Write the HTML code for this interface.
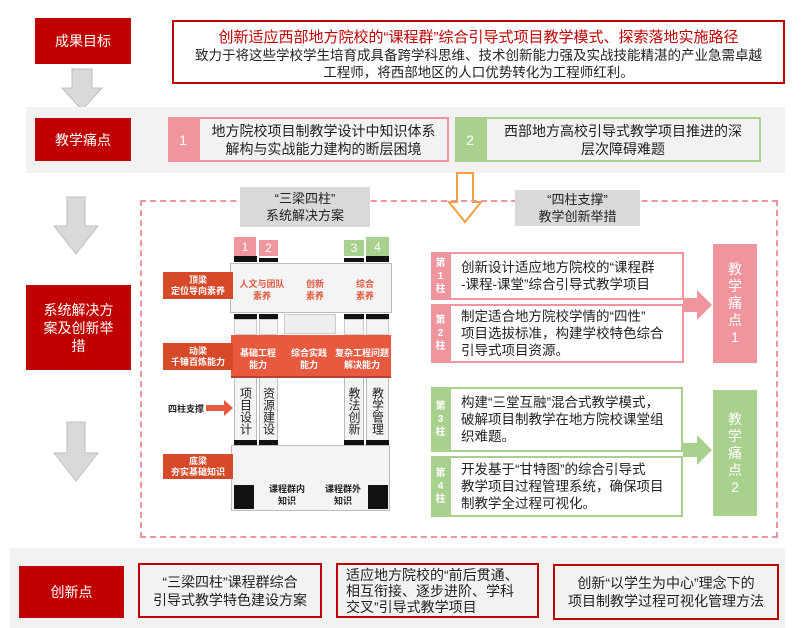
<!DOCTYPE html>
<html><head><meta charset="utf-8"><style>
*{margin:0;padding:0;box-sizing:border-box}
body{width:804px;height:628px;background:#fff;position:relative;overflow:hidden;font-family:"Liberation Sans","Noto Sans CJK SC",sans-serif;color:#222}
.a{position:absolute}
.red{background:#c00000;color:#fff;display:flex;align-items:center;justify-content:center;text-align:center;font-size:14px;line-height:18px}
.c{display:flex;align-items:center;justify-content:center;text-align:center}
.lab{background:#d64a2a;color:#fff;font-size:9px;font-weight:bold;line-height:11px}
.pil{background:#f4f4f4;border-left:1px solid #bbb;border-right:1px solid #bbb;font-size:12px;line-height:14px;writing-mode:vertical-rl;text-orientation:upright;display:flex;align-items:center;justify-content:center;padding-top:4px}
.blk{background:#111}
.pt{font-size:13.5px;line-height:17px;padding-left:10px;display:flex;align-items:center;background:#fff}
.pl{color:#fff;font-size:10px;line-height:13px;font-weight:bold;text-align:center;display:flex;align-items:center;justify-content:center}
</style></head><body>
<div class="a red" style="left:35px;top:18px;width:96px;height:46px">成果目标</div>
<div class="a" style="left:172px;top:20px;width:613px;height:64px;border:2px solid #c00000;text-align:center">
<div style="color:#c00000;font-size:15px;line-height:19px;margin-top:6px">创新适应西部地方院校的“课程群”综合引导式项目教学模式、探索落地实施路径</div>
<div style="font-size:13.5px;line-height:17px">致力于将这些学校学生培育成具备跨学科思维、技术创新能力强及实战技能精湛的产业急需卓越<br>工程师，将西部地区的人口优势转化为工程师红利。</div></div>
<svg class="a" style="left:60px;top:68px" width="44" height="44"><polygon points="12,1 32,1 32,20 42,20 22,42 2,20 12,20" fill="#d9d9d9" stroke="#bfbfbf"/></svg>
<div class="a" style="left:26px;top:107px;width:759px;height:66px;background:#f2f2f2"></div>
<div class="a red" style="left:35px;top:118px;width:96px;height:43px">教学痛点</div>
<div class="a c" style="left:168px;top:117px;width:30px;height:45px;background:#f0959e;color:#fff;font-size:14px">1</div>
<div class="a c" style="left:198px;top:117px;width:251px;height:45px;border:2px solid #f0959e;background:#f2f2f2;font-size:14px;line-height:18px">地方院校项目制教学设计中知识体系<br>解构与实战能力建构的断层困境</div>
<div class="a c" style="left:455px;top:117px;width:30px;height:45px;background:#a9d18e;color:#fff;font-size:14px">2</div>
<div class="a c" style="left:485px;top:117px;width:276px;height:45px;border:2px solid #a9d18e;background:#f2f2f2;font-size:14px;line-height:18px">西部地方高校引导式教学项目推进的深<br>层次障碍难题</div>
<svg class="a" style="left:447px;top:172px" width="36" height="52"><polygon points="10,1 26,1 26,30 34,30 18,50 2,30 10,30" fill="#fff" stroke="#f4a040" stroke-width="2"/></svg>
<div class="a" style="left:140px;top:200px;width:638px;height:338px;border:2px dashed #f0959e"></div>
<div class="a c" style="left:240px;top:187px;width:130px;height:40px;background:#d9d9d9;font-size:13px;line-height:17px">“三梁四柱”<br>系统解决方案</div>
<div class="a c" style="left:515px;top:190px;width:125px;height:36px;background:#d9d9d9;font-size:13px;line-height:17px">“四柱支撑”<br>教学创新举措</div>
<svg class="a" style="left:52px;top:196px" width="48" height="60"><polygon points="15,1 33,1 33,30 46,30 24,58 2,30 15,30" fill="#d9d9d9" stroke="#bfbfbf"/></svg>
<svg class="a" style="left:52px;top:421px" width="48" height="62"><polygon points="15,1 33,1 33,32 46,32 24,60 2,32 15,32" fill="#d9d9d9" stroke="#bfbfbf"/></svg>
<div class="a red" style="left:26px;top:285px;width:105px;height:85px">系统解决方<br>案及创新举<br>措</div>
<div class="a c" style="left:234px;top:237px;width:22px;height:19px;background:#f0959e;color:#fff;font-size:12px">1</div>
<div class="a c" style="left:259px;top:240px;width:19px;height:16px;background:#f0959e;color:#fff;font-size:12px">2</div>
<div class="a c" style="left:344px;top:240px;width:20px;height:16px;background:#a9d18e;color:#fff;font-size:12px">3</div>
<div class="a c" style="left:366px;top:237px;width:23px;height:19px;background:#a9d18e;color:#fff;font-size:12px">4</div>
<div class="a blk" style="left:234px;top:256px;width:23px;height:6px"></div>
<div class="a blk" style="left:259px;top:258px;width:19px;height:4px"></div>
<div class="a blk" style="left:344px;top:258px;width:20px;height:4px"></div>
<div class="a blk" style="left:366px;top:256px;width:23px;height:6px"></div>
<div class="a" style="left:230px;top:263px;width:162px;height:50px;background:#f4f4f4;border:1px solid #bbb"></div>
<div class="a c" style="left:237px;top:278px;width:50px;color:#e05a40;font-size:9px;font-weight:bold;line-height:12px">人文与团队<br>素养</div>
<div class="a c" style="left:300px;top:278px;width:30px;color:#e05a40;font-size:9px;font-weight:bold;line-height:12px">创新<br>素养</div>
<div class="a c" style="left:350px;top:278px;width:30px;color:#e05a40;font-size:9px;font-weight:bold;line-height:12px">综合<br>素养</div>
<div class="a c lab" style="left:163px;top:272px;width:70px;height:27px">顶梁<br>定位导向素养</div>
<div class="a blk" style="left:234px;top:314px;width:23px;height:5px"></div>
<div class="a blk" style="left:259px;top:314px;width:19px;height:5px"></div>
<div class="a blk" style="left:344px;top:314px;width:20px;height:5px"></div>
<div class="a blk" style="left:366px;top:314px;width:23px;height:5px"></div>
<div class="a" style="left:234px;top:319px;width:23px;height:16px;background:#f4f4f4;border:1px solid #ccc"></div>
<div class="a" style="left:259px;top:319px;width:19px;height:16px;background:#f4f4f4;border:1px solid #ccc"></div>
<div class="a" style="left:344px;top:319px;width:20px;height:16px;background:#f4f4f4;border:1px solid #ccc"></div>
<div class="a" style="left:366px;top:319px;width:23px;height:16px;background:#f4f4f4;border:1px solid #ccc"></div>
<div class="a" style="left:284px;top:314px;width:52px;height:20px;background:#eee;border:1px solid #ccc"></div>
<div class="a" style="left:231px;top:335px;width:160px;height:43px;background:#e85a40;border-bottom:2px solid #b84030"></div>
<div class="a c" style="left:237px;top:347px;width:42px;color:#fff;font-size:9px;font-weight:bold;line-height:12px">基础工程<br>能力</div>
<div class="a c" style="left:288px;top:347px;width:42px;color:#fff;font-size:9px;font-weight:bold;line-height:12px">综合实践<br>能力</div>
<div class="a c" style="left:333px;top:347px;width:58px;color:#fff;font-size:9px;font-weight:bold;line-height:12px">复杂工程问题<br>解决能力</div>
<div class="a c lab" style="left:163px;top:343px;width:70px;height:27px">动梁<br>千锤百炼能力</div>
<div class="a pil" style="left:234px;top:378px;width:23px;height:62px">项目设计</div>
<div class="a pil" style="left:259px;top:378px;width:19px;height:62px">资源建设</div>
<div class="a pil" style="left:344px;top:378px;width:20px;height:62px">教法创新</div>
<div class="a pil" style="left:366px;top:378px;width:23px;height:62px">教学管理</div>
<div class="a" style="left:168px;top:402px;font-size:9px;font-weight:bold">四柱支撑</div>
<svg class="a" style="left:206px;top:400px" width="28" height="16"><polygon points="0,5 18,5 18,0 27,8 18,16 18,11 0,11" fill="#e85a40"/></svg>
<div class="a blk" style="left:234px;top:440px;width:23px;height:5px"></div>
<div class="a blk" style="left:259px;top:440px;width:19px;height:5px"></div>
<div class="a blk" style="left:344px;top:440px;width:20px;height:5px"></div>
<div class="a blk" style="left:366px;top:440px;width:23px;height:5px"></div>
<div class="a" style="left:231px;top:445px;width:159px;height:66px;background:#f4f4f4;border:1px solid #bbb"></div>
<div class="a blk" style="left:234px;top:485px;width:20px;height:24px"></div>
<div class="a blk" style="left:368px;top:485px;width:20px;height:24px"></div>
<div class="a c" style="left:262px;top:483px;width:50px;font-size:9px;font-weight:bold;line-height:12px">课程群内<br>知识</div>
<div class="a c" style="left:318px;top:483px;width:50px;font-size:9px;font-weight:bold;line-height:12px">课程群外<br>知识</div>
<div class="a c lab" style="left:163px;top:454px;width:70px;height:25px">底梁<br>夯实基础知识</div>
<div class="a pl" style="left:431px;top:252px;width:19px;height:48px;background:#f0959e">第<br>1<br>柱</div>
<div class="a pt" style="left:449px;top:252px;width:235px;height:48px;border:2px solid #f0959e">创新设计适应地方院校的“课程群<br>-课程-课堂”综合引导式教学项目</div>
<div class="a pl" style="left:431px;top:304px;width:19px;height:59px;background:#f0959e">第<br>2<br>柱</div>
<div class="a pt" style="left:449px;top:304px;width:235px;height:59px;border:2px solid #f0959e">制定适合地方院校学情的“四性”<br>项目选拔标准，构建学校特色综合<br>引导式项目资源。</div>
<svg class="a" style="left:683px;top:290px" width="30" height="30"><polygon points="0,8 14,8 14,0 29,15 14,30 14,22 0,22" fill="#f0959e"/></svg>
<div class="a c" style="left:713px;top:244px;width:44px;height:119px;background:#f0959e;color:#fff;font-size:14px;line-height:17px">教<br>学<br>痛<br>点<br>1</div>
<div class="a pl" style="left:431px;top:387px;width:19px;height:65px;background:#a9d18e">第<br>3<br>柱</div>
<div class="a pt" style="left:449px;top:387px;width:234px;height:65px;border:2px solid #a9d18e">构建“三堂互融”混合式教学模式，<br>破解项目制教学在地方院校课堂组<br>织难题。</div>
<div class="a pl" style="left:431px;top:456px;width:19px;height:61px;background:#a9d18e">第<br>4<br>柱</div>
<div class="a pt" style="left:449px;top:456px;width:234px;height:61px;border:2px solid #a9d18e">开发基于“甘特图”的综合引导式<br>教学项目过程管理系统，确保项目<br>制教学全过程可视化。</div>
<svg class="a" style="left:683px;top:435px" width="30" height="30"><polygon points="0,8 14,8 14,0 29,15 14,30 14,22 0,22" fill="#a9d18e"/></svg>
<div class="a c" style="left:713px;top:390px;width:44px;height:126px;background:#a9d18e;color:#fff;font-size:14px;line-height:17px">教<br>学<br>痛<br>点<br>2</div>
<div class="a" style="left:10px;top:548px;width:775px;height:80px;background:#f2f2f2"></div>
<div class="a red" style="left:19px;top:566px;width:105px;height:52px">创新点</div>
<div class="a c" style="left:138px;top:563px;width:184px;height:55px;border:2px solid #c00000;font-size:14px;line-height:18px">“三梁四柱”课程群综合<br>引导式教学特色建设方案</div>
<div class="a" style="left:336px;top:563px;width:203px;height:55px;border:2px solid #c00000;font-size:14px;line-height:16px;padding:2px 0 0 8px">适应地方院校的“前后贯通、<br>相互衔接、逐步进阶、学科<br>交叉”引导式教学项目</div>
<div class="a c" style="left:553px;top:564px;width:226px;height:56px;border:2px solid #c00000;font-size:14px;line-height:18px">创新“以学生为中心”理念下的<br>项目制教学过程可视化管理方法</div>
</body></html>
